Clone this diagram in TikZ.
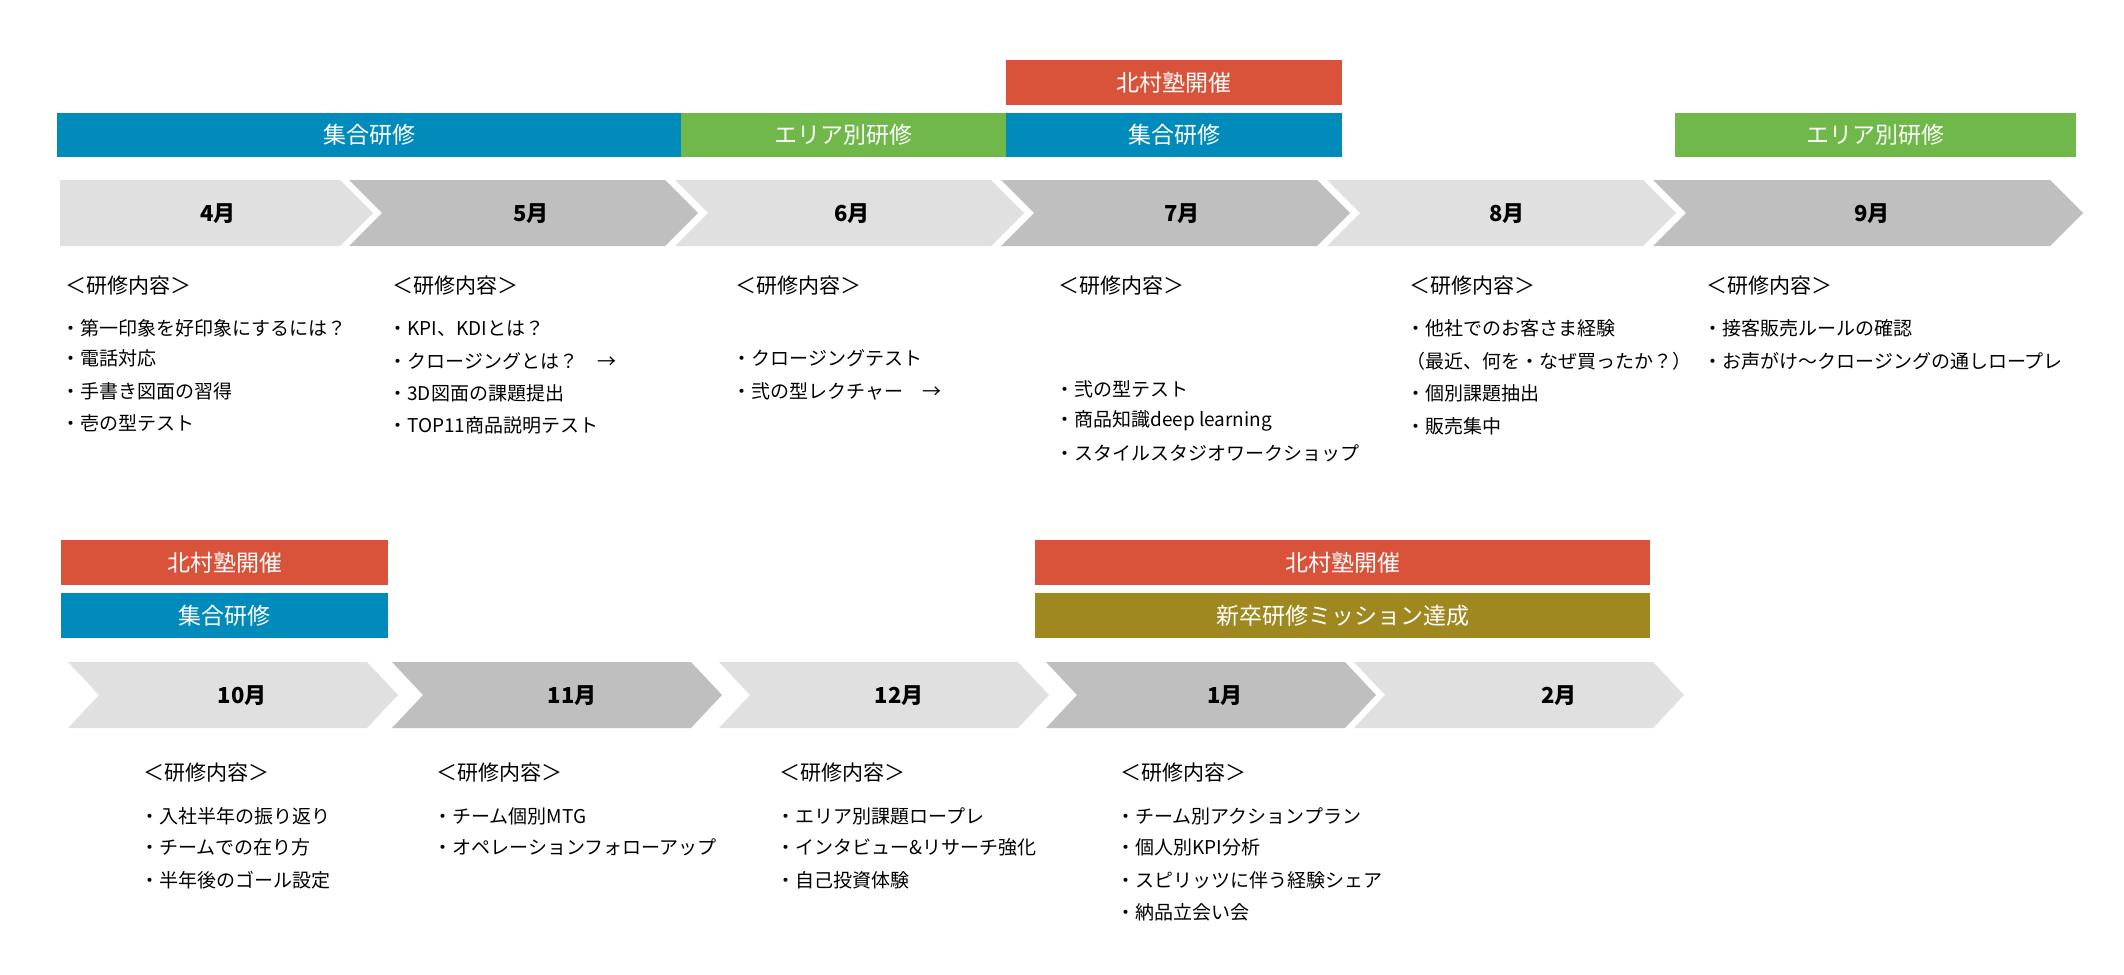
\documentclass[tikz,border=0pt]{standalone}
\usepackage{fontspec}
\setmainfont{Noto Sans CJK JP}
\begin{document}
\begin{tikzpicture}[x=0.5pt,y=-0.5pt,
  bar/.style={inner sep=0pt,text=white,font=\fontsize{11.5}{13}\selectfont},
  mon/.style={font=\bfseries\fontsize{11}{13}\selectfont},
  hd/.style={anchor=west,inner sep=0pt,font=\fontsize{10.5}{12}\selectfont},
  it/.style={anchor=west,inner sep=0pt,font=\fontsize{9.5}{12}\selectfont}]
\definecolor{cblue}{HTML}{008BBB}
\definecolor{cgreen}{HTML}{70B84A}
\definecolor{cred}{HTML}{D9533B}
\definecolor{colive}{HTML}{A08820}
\definecolor{clight}{HTML}{E0E0E0}
\definecolor{cdark}{HTML}{BFBFBF}
\useasboundingbox (0,0) rectangle (2124,974);
% chevron: x, ytop, ybot, width, depth, colour, notch(1/0)
\newcommand\mychev[7]{%
  \pgfmathsetmacro\ym{(#2+#3)/2}%
  \ifnum#7=1
  \fill[#6] (#1,#2) -- ({#1+#4-#5},#2) -- ({#1+#4},\ym) -- ({#1+#4-#5},#3) -- (#1,#3) -- ({#1+#5},\ym) -- cycle;
  \else
  \fill[#6] (#1,#2) -- ({#1+#4-#5},#2) -- ({#1+#4},\ym) -- ({#1+#4-#5},#3) -- (#1,#3) -- cycle;
  \fi}
% top bars
\fill[cred] (1006,60) rectangle (1342,105);
\node[bar] (r1) at (1174,82.5) {北村塾開催};
\fill[cblue] (57,113) rectangle (681,157);
\node[bar] (b1) at (369,135) {集合研修};
\fill[cgreen] (681,113) rectangle (1006,157);
\node[bar] (g1) at (843.5,135) {エリア別研修};
\fill[cblue] (1006,113) rectangle (1342,157);
\node[bar] (b2) at (1174,135) {集合研修};
\fill[cgreen] (1675,113) rectangle (2076,157);
\node[bar] (g2) at (1875.5,135) {エリア別研修};
% row 1 chevrons
\mychev{60}{180}{246}{313}{33}{clight}{0}
\mychev{349}{180}{246}{349}{33}{cdark}{1}
\mychev{675}{180}{246}{349}{33}{clight}{1}
\mychev{1001}{180}{246}{349}{33}{cdark}{1}
\mychev{1327}{180}{246}{349}{33}{clight}{1}
\mychev{1653}{180}{246}{430}{33}{cdark}{1}
\node[mon] (m4) at (218,214) {4月};
\node[mon] (m5) at (531,214) {5月};
\node[mon] (m6) at (852,214) {6月};
\node[mon] (m7) at (1182,214) {7月};
\node[mon] (m8) at (1507,214) {8月};
\node[mon] (m9) at (1872,214) {9月};
% row 1 texts
\node[hd] (h1) at (65,286) {＜研修内容＞};
\node[it] (a1) at (61,328) {・第一印象を好印象にするには？};
\node[it] (a2) at (61,358) {・電話対応};
\node[it] (a3) at (61,391) {・手書き図面の習得};
\node[it] (a4) at (61,423) {・壱の型テスト};
\node[hd] (h2) at (392,286) {＜研修内容＞};
\node[it] (c1) at (388,329) {・KPI、KDIとは？};
\node[it] (c2) at (388,361) {・クロージングとは？　→};
\node[it] (c3) at (388,393) {・3D図面の課題提出};
\node[it] (c4) at (388,425) {・TOP11商品説明テスト};
\node[hd] (h3) at (735,286) {＜研修内容＞};
\node[it] (d1) at (732,358) {・クロージングテスト};
\node[it] (d2) at (732,391) {・弐の型レクチャー　→};
\node[hd] (h4) at (1058,286) {＜研修内容＞};
\node[it] (e1) at (1055,389) {・弐の型テスト};
\node[it] (e2) at (1055,421) {・商品知識deep learning};
\node[it] (e3) at (1055,453) {・スタイルスタジオワークショップ};
\node[hd] (h5) at (1409,286) {＜研修内容＞};
\node[it] (f1) at (1406,328) {・他社でのお客さま経験};
\node[it] (f2) at (1406,361) {（最近、何を・なぜ買ったか？）};
\node[it] (f3) at (1406,393) {・個別課題抽出};
\node[it] (f4) at (1406,426) {・販売集中};
\node[hd] (h6) at (1706,286) {＜研修内容＞};
\node[it] (k1) at (1703,328) {・接客販売ルールの確認};
\node[it] (k2) at (1703,361) {・お声がけ～クロージングの通しロープレ};
% row 2 bars
\fill[cred] (61,540) rectangle (388,585);
\node[bar] (r2) at (224.5,562.5) {北村塾開催};
\fill[cblue] (61,593) rectangle (388,638);
\node[bar] (b3) at (224.5,615.5) {集合研修};
\fill[cred] (1035,540) rectangle (1650,585);
\node[bar] (r3) at (1342.5,562.5) {北村塾開催};
\fill[colive] (1035,593) rectangle (1650,638);
\node[bar] (o1) at (1342.5,615.5) {新卒研修ミッション達成};
% row 2 chevrons
\mychev{68}{662}{728}{330}{31}{clight}{1}
\mychev{392}{662}{728}{330}{31}{cdark}{1}
\mychev{719}{662}{728}{330}{31}{clight}{1}
\mychev{1046}{662}{728}{330}{31}{cdark}{1}
\mychev{1354}{662}{728}{330}{31}{clight}{1}
\node[mon] (m10) at (242,696) {10月};
\node[mon] (m11) at (572,696) {11月};
\node[mon] (m12) at (899,696) {12月};
\node[mon] (m1) at (1225,696) {1月};
\node[mon] (m2) at (1559,696) {2月};
% row 2 texts
\node[hd] (h7) at (143,773) {＜研修内容＞};
\node[it] (p1) at (140,816) {・入社半年の振り返り};
\node[it] (p2) at (140,847) {・チームでの在り方};
\node[it] (p3) at (140,880) {・半年後のゴール設定};
\node[hd] (h8) at (436,773) {＜研修内容＞};
\node[it] (q1) at (433,816) {・チーム個別MTG};
\node[it] (q2) at (433,847) {・オペレーションフォローアップ};
\node[hd] (h9) at (779,773) {＜研修内容＞};
\node[it] (s1) at (776,816) {・エリア別課題ロープレ};
\node[it] (s2) at (776,847) {・インタビュー\&リサーチ強化};
\node[it] (s3) at (776,880) {・自己投資体験};
\node[hd] (h10) at (1120,773) {＜研修内容＞};
\node[it] (t1) at (1116,816) {・チーム別アクションプラン};
\node[it] (t2) at (1116,847) {・個人別KPI分析};
\node[it] (t3) at (1116,880) {・スピリッツに伴う経験シェア};
\node[it] (t4) at (1116,912) {・納品立会い会};
\end{tikzpicture}
\end{document}
